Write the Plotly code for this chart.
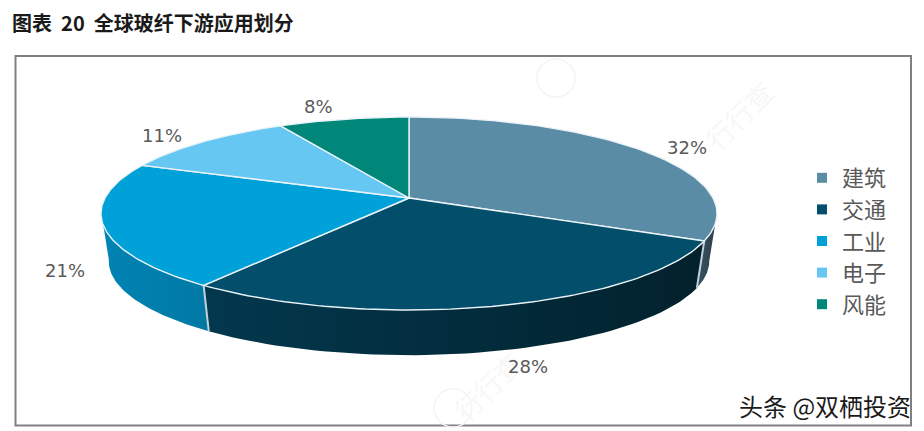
import math
import plotly.graph_objects as go

categories = ["建筑", "交通", "工业", "电子", "风能"]
values = [32, 28, 21, 11, 8]
top_colors = ["#5b8ca6", "#034e6b", "#00a0d8", "#66c8f2", "#00877a"]
side_colors = [("#3a5260", "#2a3f4b"), ("#03384e", "#02212c"), ("#0184b4", "#0178a4"), ("#66c8f2", "#66c8f2"), ("#00877a", "#00877a")]
label_pos = [(687, 147), (528, 366), (65, 270), (162, 135), (318, 106)]
title = "图表  20  全球玻纤下游应用划分"
credit = "头条 @双栖投资"
watermark_text = "行行查"
watermark_logos = [(556, 78), (667, 193), (453, 408)]
watermark_texts = [(738, 115), (487, 386)]

# perspective pie geometry
CX, CY, A, B, K = 409, 198, 304, 94, -0.1606
DEPTH, SHRINK = 48, 0.975


def project(theta, scale=1.0, dy=0.0):
    u, v = math.sin(theta), -math.cos(theta)
    d = 1 + K * v
    return CX + scale * A * u / d, CY + dy + scale * B * v / d


def arc(t0, t1, scale=1.0, dy=0.0, n=60):
    pts = [project(t0 + (t1 - t0) * i / n, scale, dy) for i in range(n + 1)]
    return [p[0] for p in pts], [p[1] for p in pts]


total = sum(values)
edges = [0.0]
for v in values:
    edges.append(edges[-1] + v / total * 2 * math.pi)

VIS0, VIS1 = math.radians(99), math.radians(262)
fig = go.Figure()

# side walls
for i in range(3):
    t0, t1 = max(edges[i], VIS0), min(edges[i + 1], VIS1)
    xa, ya = arc(t0, t1)
    xb, yb = arc(t0, t1, SHRINK, DEPTH)
    xs = xa + xb[::-1] + [xa[0]]
    ys = ya + yb[::-1] + [ya[0]]
    c0, c1 = side_colors[i]
    fig.add_trace(go.Scatter(
        x=xs, y=ys, mode="lines", fill="toself", line=dict(width=0), showlegend=False, hoverinfo="skip",
        fillgradient=dict(type="horizontal", colorscale=[[0, c0], [1, c1]], start=min(xs), stop=max(xs)),
    ))

# separators on the side wall
for t in (edges[1], edges[2]):
    p, q = project(t), project(t, SHRINK, DEPTH)
    fig.add_trace(go.Scatter(x=[p[0], q[0]], y=[p[1], q[1]], mode="lines",
                             line=dict(color="#c3d2da", width=2), showlegend=False, hoverinfo="skip"))

# top faces
for i, c in enumerate(top_colors):
    xa, ya = arc(edges[i], edges[i + 1], n=90)
    fig.add_trace(go.Scatter(x=[CX] + xa + [CX], y=[CY] + ya + [CY], mode="lines", fill="toself",
                             fillcolor=c, line=dict(color="#eaf3f7", width=1.4),
                             showlegend=False, name=categories[i], hoverinfo="name"))

# legend
for name, c in zip(categories, top_colors):
    fig.add_trace(go.Scatter(x=[None], y=[None], mode="markers", name=name, legendgroup=name,
                             marker=dict(symbol="square", size=10, color=c)))

annotations = []
for x, y in watermark_texts:
    annotations.append(dict(x=x, y=y, text=watermark_text, textangle=-45, showarrow=False, xref="x", yref="y",
                            font=dict(family="Noto Sans CJK SC", size=27, color="#f7f7f7")))
annotations += [dict(x=x, y=y, text=f"{v}%", showarrow=False, xref="x", yref="y",
                     font=dict(family="DejaVu Sans", size=18, color="#595959"))
                for (x, y), v in zip(label_pos, values)]
annotations.append(dict(x=10, y=22, xanchor="left", text=f"<b>{title}</b>", showarrow=False, xref="x", yref="y",
                        font=dict(family="Noto Sans CJK SC", size=20, color="#1a1a1a")))
annotations.append(dict(x=913, y=405, xanchor="right", text=credit, showarrow=False, xref="x", yref="y",
                        font=dict(family="Noto Sans CJK SC", size=24, color="#1a1a1a")))

shapes = [dict(type="rect", x0=15.5, y0=56, x1=911, y1=425.5, xref="x", yref="y",
               line=dict(color="#808080", width=2), layer="below")]
for x, y in watermark_logos:
    shapes.append(dict(type="circle", x0=x - 19, y0=y - 19, x1=x + 19, y1=y + 19, xref="x", yref="y",
                       line=dict(color="#f4f4f4", width=1.5), layer="below"))

fig.update_layout(
    width=924, height=431, margin=dict(l=0, r=0, t=0, b=0), paper_bgcolor="white", plot_bgcolor="white",
    xaxis=dict(range=[0, 924], visible=False, fixedrange=True),
    yaxis=dict(range=[431, 0], visible=False, fixedrange=True),
    annotations=annotations,
    shapes=shapes,
    legend=dict(x=802 / 924, y=1 - 157 / 431, xanchor="left", yanchor="top", bgcolor="rgba(0,0,0,0)",
                font=dict(family="Noto Sans CJK SC", size=22, color="#595959"),
                tracegroupgap=0, itemwidth=30),
)
fig.write_html("out.html", config={"displayModeBar": False},
               post_script="document.body.style.margin='0';document.documentElement.style.overflow='hidden';")
